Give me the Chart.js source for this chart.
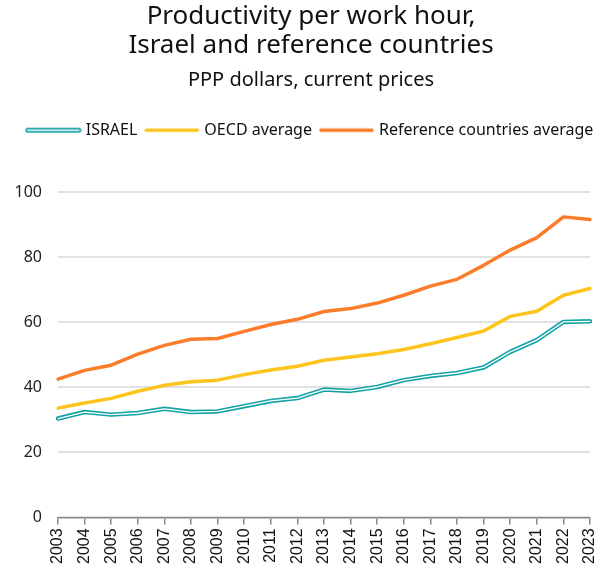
<!DOCTYPE html>
<html>
<head>
<meta charset="utf-8">
<script src="https://cdn.jsdelivr.net/npm/chart.js@4/dist/chart.umd.min.js"></script>
<style>
  html, body { margin: 0; padding: 0; background: #fff; }
  #wrap { width: 606px; height: 568px; }
</style>
</head>
<body>
<div id="wrap"><canvas id="c"></canvas></div>
<script>
// Productivity per work hour, PPP dollars (current prices)
const years = ['2003','2004','2005','2006','2007','2008','2009','2010','2011','2012','2013',
               '2014','2015','2016','2017','2018','2019','2020','2021','2022','2023'];
const israel    = [30.4, 32.4, 31.6, 32.1, 33.4, 32.4, 32.6, 34.2, 35.8, 36.7, 39.3,
                   38.9, 40.1, 42.2, 43.5, 44.4, 46.1, 50.9, 54.5, 60.1, 60.3];
const oecd      = [33.6, 35.2, 36.6, 38.8, 40.6, 41.7, 42.2, 43.9, 45.3, 46.5, 48.3,
                   49.3, 50.3, 51.6, 53.4, 55.3, 57.3, 61.8, 63.4, 68.3, 70.4];
const reference = [42.5, 45.2, 46.8, 50.2, 52.9, 54.8, 55.0, 57.2, 59.3, 60.9, 63.3,
                   64.2, 65.9, 68.3, 71.1, 73.2, 77.5, 82.2, 86.0, 92.4, 91.6];
const yTicks = [0, 20, 40, 60, 80, 100];
const seriesNames = ['ISRAEL', 'OECD average', 'Reference countries average'];

const TEAL = '#16a3a6';
const YELLOW = '#fcc41d';
const ORANGE = '#fb7d2b';

// Small line swatch used as the legend marker
function swatch(color, hollow) {
  const c = document.createElement('canvas');
  c.width = 57; c.height = 7;
  const g = c.getContext('2d');
  g.lineCap = 'round';
  g.strokeStyle = color;
  g.lineWidth = hollow ? 5 : 3.5;
  g.beginPath(); g.moveTo(3, 3.5); g.lineTo(54, 3.5); g.stroke();
  if (hollow) {
    g.strokeStyle = '#fff';
    g.lineWidth = 1.5;
    g.beginPath(); g.moveTo(3, 3.5); g.lineTo(54, 3.5); g.stroke();
  }
  return c;
}
const swatches = [swatch(TEAL, true), swatch(YELLOW, false), swatch(ORANGE, false)];

// Extra room under the legend
const legendGap = {
  id: 'legendGap',
  beforeInit(chart) {
    const fit = chart.legend.fit;
    chart.legend.fit = function () {
      fit.bind(this)();
      this.height += 44;
    };
  }
};

new Chart(document.getElementById('c'), {
  type: 'line',
  data: {
    labels: years,
    datasets: [
      { label: seriesNames[2], data: reference, borderColor: ORANGE, borderWidth: 3.5, order: 2 },
      { label: seriesNames[1], data: oecd, borderColor: YELLOW, borderWidth: 3.5, order: 2 },
      { label: seriesNames[0], data: israel, borderColor: TEAL, borderWidth: 4.5, order: 1 },
      // white core drawn over the Israel line to give it a double stroke
      { label: 'israel-core', data: israel, borderColor: '#ffffff', borderWidth: 1.3, order: 0 }
    ]
  },
  options: {
    responsive: true,
    maintainAspectRatio: false,
    animation: false,
    devicePixelRatio: 1,
    elements: { point: { radius: 0, hoverRadius: 0 }, line: { tension: 0, borderJoinStyle: 'round', borderCapStyle: 'round' } },
    layout: { padding: { left: 16, right: 0, top: 0, bottom: 0 } },
    plugins: {
      title: {
        display: true,
        text: ['Productivity per work hour,', 'Israel and reference countries'],
        color: '#111',
        font: { family: 'Noto Sans', size: 26, weight: 'normal', lineHeight: 1.08 },
        padding: { top: 3, bottom: 9 }
      },
      subtitle: {
        display: true,
        text: 'PPP dollars, current prices',
        color: '#111',
        font: { family: 'Noto Sans', size: 20, weight: 'normal', lineHeight: 1.2 },
        padding: { top: 0, bottom: 20 }
      },
      legend: {
        display: true,
        labels: {
          usePointStyle: true,
          pointStyleWidth: 49,
          boxHeight: 7,
          padding: 10,
          color: '#111',
          font: { family: 'Noto Sans', size: 16 },
          generateLabels() {
            return seriesNames.map((name, i) => ({
              text: name,
              pointStyle: swatches[i],
              fillStyle: 'transparent',
              strokeStyle: 'transparent',
              lineWidth: 0,
              hidden: false,
              fontColor: '#111',
              datasetIndex: i
            }));
          }
        }
      },
      tooltip: { enabled: false }
    },
    scales: {
      x: {
        offset: false,
        afterFit(scale) { scale.paddingLeft = 0; scale.paddingRight = 16; },
        grid: { display: true, drawOnChartArea: false, drawTicks: true, tickLength: 7, color: '#8a8a8a', lineWidth: 1.5 },
        border: { display: true, color: '#8a8a8a', width: 1.5 },
        ticks: {
          autoSkip: false,
          maxRotation: 90,
          minRotation: 90,
          padding: 4,
          color: '#111',
          font: { family: 'Liberation Sans', size: 16 }
        }
      },
      y: {
        min: 0,
        max: 100,
        afterBuildTicks(axis) { axis.ticks = yTicks.map(v => ({ value: v })); },
        afterFit(scale) { scale.width = 42; },
        grid: { color: '#e2e2e2', lineWidth: 2, drawTicks: false },
        border: { display: false },
        ticks: {
          padding: 16,
          color: '#222',
          font: { family: 'Noto Sans', size: 16 }
        }
      }
    }
  },
  plugins: [legendGap]
});
</script>
</body>
</html>
